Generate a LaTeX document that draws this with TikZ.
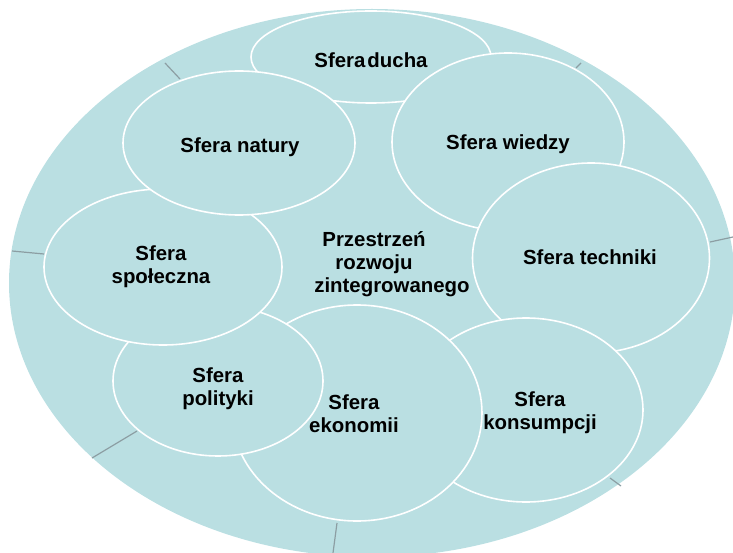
\documentclass[tikz,border=0pt]{standalone}
\usepackage{fontspec}
\setmainfont{Liberation Sans}
\usetikzlibrary{shapes.geometric}

\definecolor{morski}{RGB}{186,223,226}
\definecolor{kreska}{RGB}{140,158,163}

\tikzset{
  sfera/.style={ellipse, draw=white, line width=1.6pt, fill=morski, inner sep=0pt, outer sep=0pt},
  napis/.style={font=\fontsize{20.4}{23}\selectfont\bfseries, align=center, inner sep=0pt}
}

\begin{document}
\begin{tikzpicture}[x=1pt,y=-1pt]
  \useasboundingbox (0,0) rectangle (733,553);

  % Draw the big background ellipse
  \node[ellipse, fill=morski, minimum width=726pt, minimum height=548pt, inner sep=0pt] (przestrzen) at (372,283) {};

  % Draw the grey ticks on its border
  \draw[kreska, line width=1.2pt] (165,63) -- (180,79);
  \draw[kreska, line width=1.2pt] (576,68) -- (581,63);
  \draw[kreska, line width=1.2pt] (12,251) -- (44,254);
  \draw[kreska, line width=1.2pt] (710,242) -- (733,237);
  \draw[kreska, line width=1.2pt] (92,458) -- (137,431);
  \draw[kreska, line width=1.2pt] (337,523) -- (333,553);
  \draw[kreska, line width=1.2pt] (610,478) -- (621,486);

  % Draw the spheres, back to front
  \node[sfera, minimum width=240pt, minimum height=92pt] (duch) at (371,57) {};
  \node[sfera, minimum width=232pt, minimum height=178pt] (wiedza) at (508,142) {};
  \node[sfera, minimum width=237pt, minimum height=190pt] (technika) at (591,258) {};
  \node[sfera, minimum width=234pt, minimum height=184pt] (konsumpcja) at (526,410) {};
  \node[sfera, minimum width=250pt, minimum height=216pt] (ekonomia) at (357,413) {};
  \node[sfera, minimum width=210pt, minimum height=150pt] (polityka) at (218,381) {};
  \node[sfera, minimum width=238pt, minimum height=156pt] (spoleczenstwo) at (163,267) {};
  \node[sfera, minimum width=232pt, minimum height=144pt] (natura) at (239,143) {};

  % Write the labels
  \node[napis, anchor=base] (duch-t) at (371,68) {Sfera\hspace{0.1em}ducha};
  \node[napis, anchor=base] (natura-t) at (240,153) {Sfera natury};
  \node[napis, anchor=base] (wiedza-t) at (508,150) {Sfera wiedzy};
  \node[napis, anchor=base] (technika-t) at (590,265) {Sfera techniki};
  \node[napis] (spoleczenstwo-t) at (161,267) {Sfera\\społeczna};
  \node[napis] (polityka-t) at (218,389) {Sfera\\polityki};
  \node[napis] (ekonomia-t) at (354,414) {Sfera\\ekonomii};
  \node[napis] (konsumpcja-t) at (540,413) {Sfera\\konsumpcji};
  \node[napis] (przestrzen-t) at (374,264) {Przestrzeń\\rozwoju\\\hspace*{36pt}zintegrowanego};
\end{tikzpicture}
\end{document}
